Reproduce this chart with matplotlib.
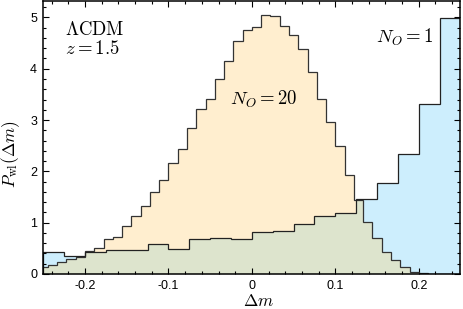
import numpy as np
import matplotlib
matplotlib.use("Agg")
import matplotlib.pyplot as plt
from matplotlib.ticker import MultipleLocator

plt.rcParams['font.family'] = ['Liberation Sans', 'DejaVu Sans']
plt.rcParams['mathtext.fontset'] = 'cm'
plt.rcParams['axes.unicode_minus'] = False

# N_O = 20 histogram: bins of width 1/90, edges at k/90
edges20 = np.arange(-23, 24) / 90.0
vals20 = [0.13, 0.18, 0.24, 0.29, 0.34, 0.44, 0.51, 0.69, 0.73, 0.93,
          1.14, 1.33, 1.59, 1.83, 2.16, 2.44, 2.85, 3.21, 3.42, 3.80,
          4.15, 4.54, 4.76, 4.82, 5.04, 5.02, 4.84, 4.66, 4.39, 3.94,
          3.41, 2.96, 2.49, 1.93, 1.44, 1.01, 0.71, 0.42, 0.27, 0.14,
          0.045, 0.015, 0.0, 0.0, 0.0, 0.0]

# N_O = 1 histogram: bins of width 0.025
edges1 = np.linspace(-0.25, 0.25, 21)
vals1 = [0.43, 0.35, 0.43, 0.46, 0.47, 0.58, 0.49, 0.68, 0.70, 0.69,
         0.82, 0.845, 0.97, 1.13, 1.18, 1.46, 1.77, 2.34, 3.31, 4.98]

xticks = [-0.2, -0.1, 0.0, 0.1, 0.2]
xticklabels = ['-0.2', '-0.1', '0', '0.1', '0.2']
yticks = [0, 1, 2, 3, 4, 5]

c_orange = '#FFEECF'
c_blue = '#CDEEFD'
c_green = '#DDE4CD'
c_line = '#222222'


def eval_hist(vals, edges, x):
    vals = np.asarray(vals)
    idx = np.searchsorted(edges, x, side='right') - 1
    out = np.zeros_like(x)
    ok = (idx >= 0) & (idx < len(vals))
    out[ok] = vals[idx[ok]]
    return out


fig = plt.figure(figsize=(4.63, 3.09), dpi=100)
ax = fig.add_axes([43.3 / 463, 35 / 309, (460.5 - 43.3) / 463, (308 - 35) / 309])

v20 = np.asarray(vals20)
v1 = np.asarray(vals1)

# overlap region
uedges = np.union1d(edges20, edges1)
mids = 0.5 * (uedges[:-1] + uedges[1:])
overlap = np.minimum(eval_hist(v20, edges20, mids), eval_hist(v1, edges1, mids))

ax.stairs(v20, edges20, fill=True, color=c_orange, zorder=1)
ax.stairs(v1, edges1, fill=True, color=c_blue, zorder=1.1)
ax.stairs(overlap, uedges, fill=True, color=c_green, zorder=1.2)
ax.stairs(v20, edges20, color='#333333', lw=0.9, zorder=2)
ax.stairs(v1, edges1, color=c_line, lw=0.9, zorder=2.1)

ax.set_xlim(-0.25, 0.25)
ax.set_ylim(0, 5.32)
ax.set_xticks(xticks)
ax.set_xticklabels(xticklabels)
ax.set_yticks(yticks)
ax.xaxis.set_minor_locator(MultipleLocator(0.02))
ax.yaxis.set_minor_locator(MultipleLocator(0.2))
ax.tick_params(which='both', direction='in', top=True, right=True,
               labelsize=9, width=0.8, color='k')
ax.tick_params(which='major', length=4.5, pad=4.5)
ax.tick_params(which='minor', length=2.3)
for s in ax.spines.values():
    s.set_linewidth(1.1)
    s.set_zorder(5)

ax.set_xlabel(r'$\Delta m$', fontsize=12.5)
ax.xaxis.set_label_coords(0.515, -0.068)
ax.set_ylabel(r'$P_{\rm wl}(\Delta m)$', fontsize=12.5)
ax.yaxis.set_label_coords(-0.05, 0.44)

ax.text(-0.224, 4.76, r'$\Lambda\mathrm{CDM}$', fontsize=13.5, va='center', ha='left')
ax.text(-0.224, 4.38, r'$z=1.5$', fontsize=13.5, va='center', ha='left')
ax.text(-0.026, 3.40, r'$N_O=20$', fontsize=13.5, va='center', ha='left')
ax.text(0.149, 4.62, r'$N_O=1$', fontsize=13.5, va='center', ha='left')

fig.savefig('out.png', dpi=100)
